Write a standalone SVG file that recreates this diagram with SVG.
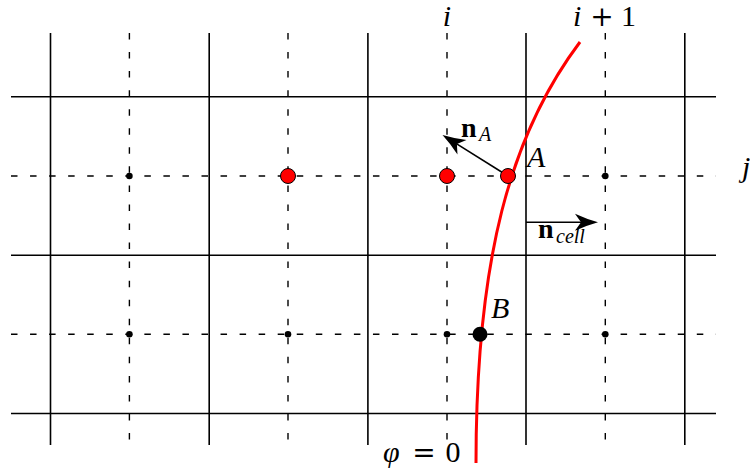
<svg xmlns="http://www.w3.org/2000/svg" width="750" height="474" viewBox="0 0 750 474">
<style>
.solid{stroke:#000;stroke-width:1.6;fill:none}
.dash{stroke:#000;stroke-width:1.4;fill:none;stroke-dasharray:6.5 12.55}
.curve{stroke:#ff0000;stroke-width:3;fill:none}
.red{fill:#ff0000;stroke:#000;stroke-width:1}
.blk{fill:#000}
.arr{stroke:#000;stroke-width:1.6;fill:none}
</style>
<defs>
<marker id="stealth" markerUnits="userSpaceOnUse" markerWidth="40" markerHeight="40" viewBox="-20 -20 40 40" refX="0" refY="0" orient="auto" overflow="visible">
<path d="M13,0 Q2,-3 -10,-8.5 L-4,0 L-10,8.5 Q2,3 13,0 Z" fill="#000"/>
</marker>
</defs>
<g id="grid">
<g id="solid-lines">
<line class="solid" x1="50.5" y1="33" x2="50.5" y2="445"/>
<line class="solid" x1="209.2" y1="33" x2="209.2" y2="445"/>
<line class="solid" x1="367.9" y1="33" x2="367.9" y2="445"/>
<line class="solid" x1="526" y1="33" x2="526" y2="445"/>
<line class="solid" x1="684.8" y1="33" x2="684.8" y2="445"/>
<line class="solid" x1="11" y1="96.8" x2="716" y2="96.8"/>
<line class="solid" x1="11" y1="255.3" x2="716" y2="255.3"/>
<line class="solid" x1="11" y1="413.5" x2="716" y2="413.5"/>
</g>
<g id="dashed-lines">
<line class="dash" x1="129.4" y1="33" x2="129.4" y2="445"/>
<line class="dash" x1="288" y1="33" x2="288" y2="445"/>
<line class="dash" x1="447" y1="33" x2="447" y2="445"/>
<line class="dash" x1="605.3" y1="33" x2="605.3" y2="445"/>
<line class="dash" x1="11" y1="176" x2="716" y2="176"/>
<line class="dash" x1="11" y1="334.3" x2="716" y2="334.3"/>
</g>
</g>
<g id="connectors">
<path id="interface" class="curve" d="M580,42 C510,135 476,260 476,463"/>
<line id="arrow-nA" class="arr" x1="508" y1="176" x2="453.5" y2="141.9" marker-end="url(#stealth)"/>
<line id="arrow-ncell" class="arr" x1="526" y1="222.3" x2="585" y2="222.3" marker-end="url(#stealth)"/>
</g>
<g id="cell-centers">
<circle class="blk" cx="129.4" cy="176" r="3.3"/>
<circle class="blk" cx="605.3" cy="176" r="3.3"/>
<circle class="blk" cx="129.4" cy="334.3" r="3.3"/>
<circle class="blk" cx="288" cy="334.3" r="3.3"/>
<circle class="blk" cx="447" cy="334.3" r="3.3"/>
<circle class="blk" cx="605.3" cy="334.3" r="3.3"/>
</g>
<g id="red-points">
<circle class="red" cx="288" cy="176" r="7.5"/>
<circle class="red" cx="447" cy="176" r="7.5"/>
</g>
<g id="node-A">
<circle class="red" cx="508" cy="176" r="7.5"/>
<text x="527" y="167" font-family="Liberation Serif, serif" font-size="30" font-style="italic">A</text>
</g>
<g id="node-B">
<circle class="blk" cx="480" cy="334.3" r="7.5"/>
<text x="491" y="318" font-family="Liberation Serif, serif" font-size="30" font-style="italic">B</text>
</g>
<g id="labels" font-family="Liberation Serif, serif" font-size="30" fill="#000">
<text x="447" y="26" text-anchor="middle" font-style="italic">i</text>
<text x="573" y="26" font-style="italic">i</text>
<text x="602" y="26" text-anchor="middle" font-family="DejaVu Serif, serif" font-size="28">+</text>
<text x="628.5" y="26" text-anchor="middle">1</text>
<text x="742" y="177" font-style="italic">j</text>
<text x="383" y="462" font-style="italic">φ</text>
<text x="424" y="462" text-anchor="middle" font-family="DejaVu Serif, serif" font-size="28">=</text>
<text x="453" y="462" text-anchor="middle">0</text>
<text x="461" y="137" font-weight="bold" font-size="28">n</text>
<text x="479" y="141" font-style="italic" font-size="20">A</text>
<text x="538" y="238" font-weight="bold" font-size="28">n</text>
<text x="556" y="243" font-style="italic" font-size="20">cell</text>
</g>
</svg>
